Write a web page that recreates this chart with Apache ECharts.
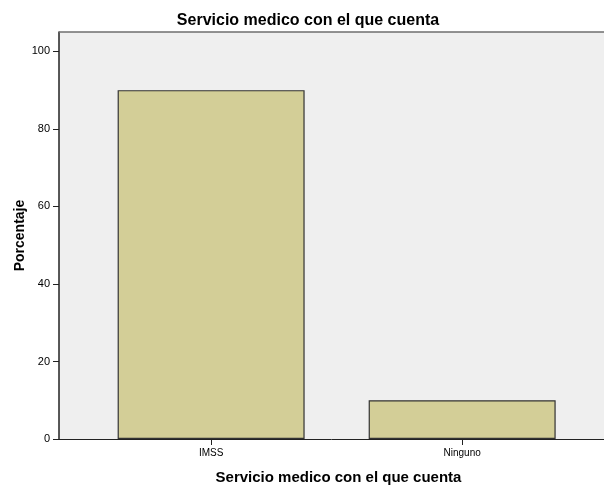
<!DOCTYPE html>
<html><head><meta charset="utf-8">
<script src="https://cdn.jsdelivr.net/npm/echarts@6/dist/echarts.min.js"></script>
<style>html,body{margin:0;padding:0;background:#fff}#c{width:604px;height:486px}</style>
</head><body><div id="c"></div>
<script>
var categories = ['IMSS', 'Ninguno'];
var values = [90, 10];
var yTicks = [0, 20, 40, 60, 80, 100];
var titleText = 'Servicio medico con el que cuenta';
var yName = 'Porcentaje';

var positions = categories.map(function (c, i) { return i + 1; });
var chart = echarts.init(document.getElementById('c'), null, {renderer: 'canvas'});
var F = 'Liberation Sans, Arial, sans-serif';
chart.setOption({
  animation: false,
  backgroundColor: '#ffffff',
  title: {text: titleText, left: 303, textAlign: 'center', top: 8,
    textStyle: {fontFamily: F, fontSize: 16, fontWeight: 'bold', color: '#000'}},
  grid: {left: 59, top: 32, width: 545, height: 407, show: true,
    backgroundColor: '#efefef', borderWidth: 0, containLabel: false, outerBoundsMode: 'none'},
  xAxis: {
    type: 'value', min: 0.394, max: 2.565,
    name: titleText, nameLocation: 'middle', nameGap: 31, nameMoveOverlap: false,
    nameTextStyle: {fontFamily: F, fontSize: 15, fontWeight: 'bold', color: '#000', padding: [0, 0, 0, 14]},
    axisLine: {show: true, lineStyle: {color: '#222', width: 1}},
    axisTick: {show: true, customValues: positions, length: 6, lineStyle: {color: '#222'}},
    axisLabel: {customValues: positions, fontFamily: F, fontSize: 10, color: '#000', margin: 9,
      formatter: function (v) { return categories[Math.round(v) - 1] || ''; }},
    splitLine: {show: false}
  },
  yAxis: {
    type: 'value', min: 0, max: 105,
    name: yName, nameLocation: 'middle', nameGap: 32, nameMoveOverlap: false,
    nameTextStyle: {fontFamily: F, fontSize: 14, fontWeight: 'bold', color: '#000'},
    axisLine: {show: true, lineStyle: {color: '#222', width: 1.5}},
    axisTick: {show: true, customValues: yTicks, length: 6, lineStyle: {color: '#222'}},
    axisLabel: {customValues: yTicks, fontFamily: F, fontSize: 11, color: '#000', margin: 9},
    splitLine: {show: false}
  },
  graphic: [{type: 'line', shape: {x1: 59, y1: 32, x2: 604, y2: 32},
    style: {stroke: '#6e6e6e', lineWidth: 1.5}, z: 10}],
  series: [{
    type: 'bar', barWidth: 187,
    data: positions.map(function (p, i) { return [p, values[i]]; }),
    itemStyle: {color: '#d3ce97', borderColor: '#333333', borderWidth: 1.2}
  }]
});
</script></body></html>
